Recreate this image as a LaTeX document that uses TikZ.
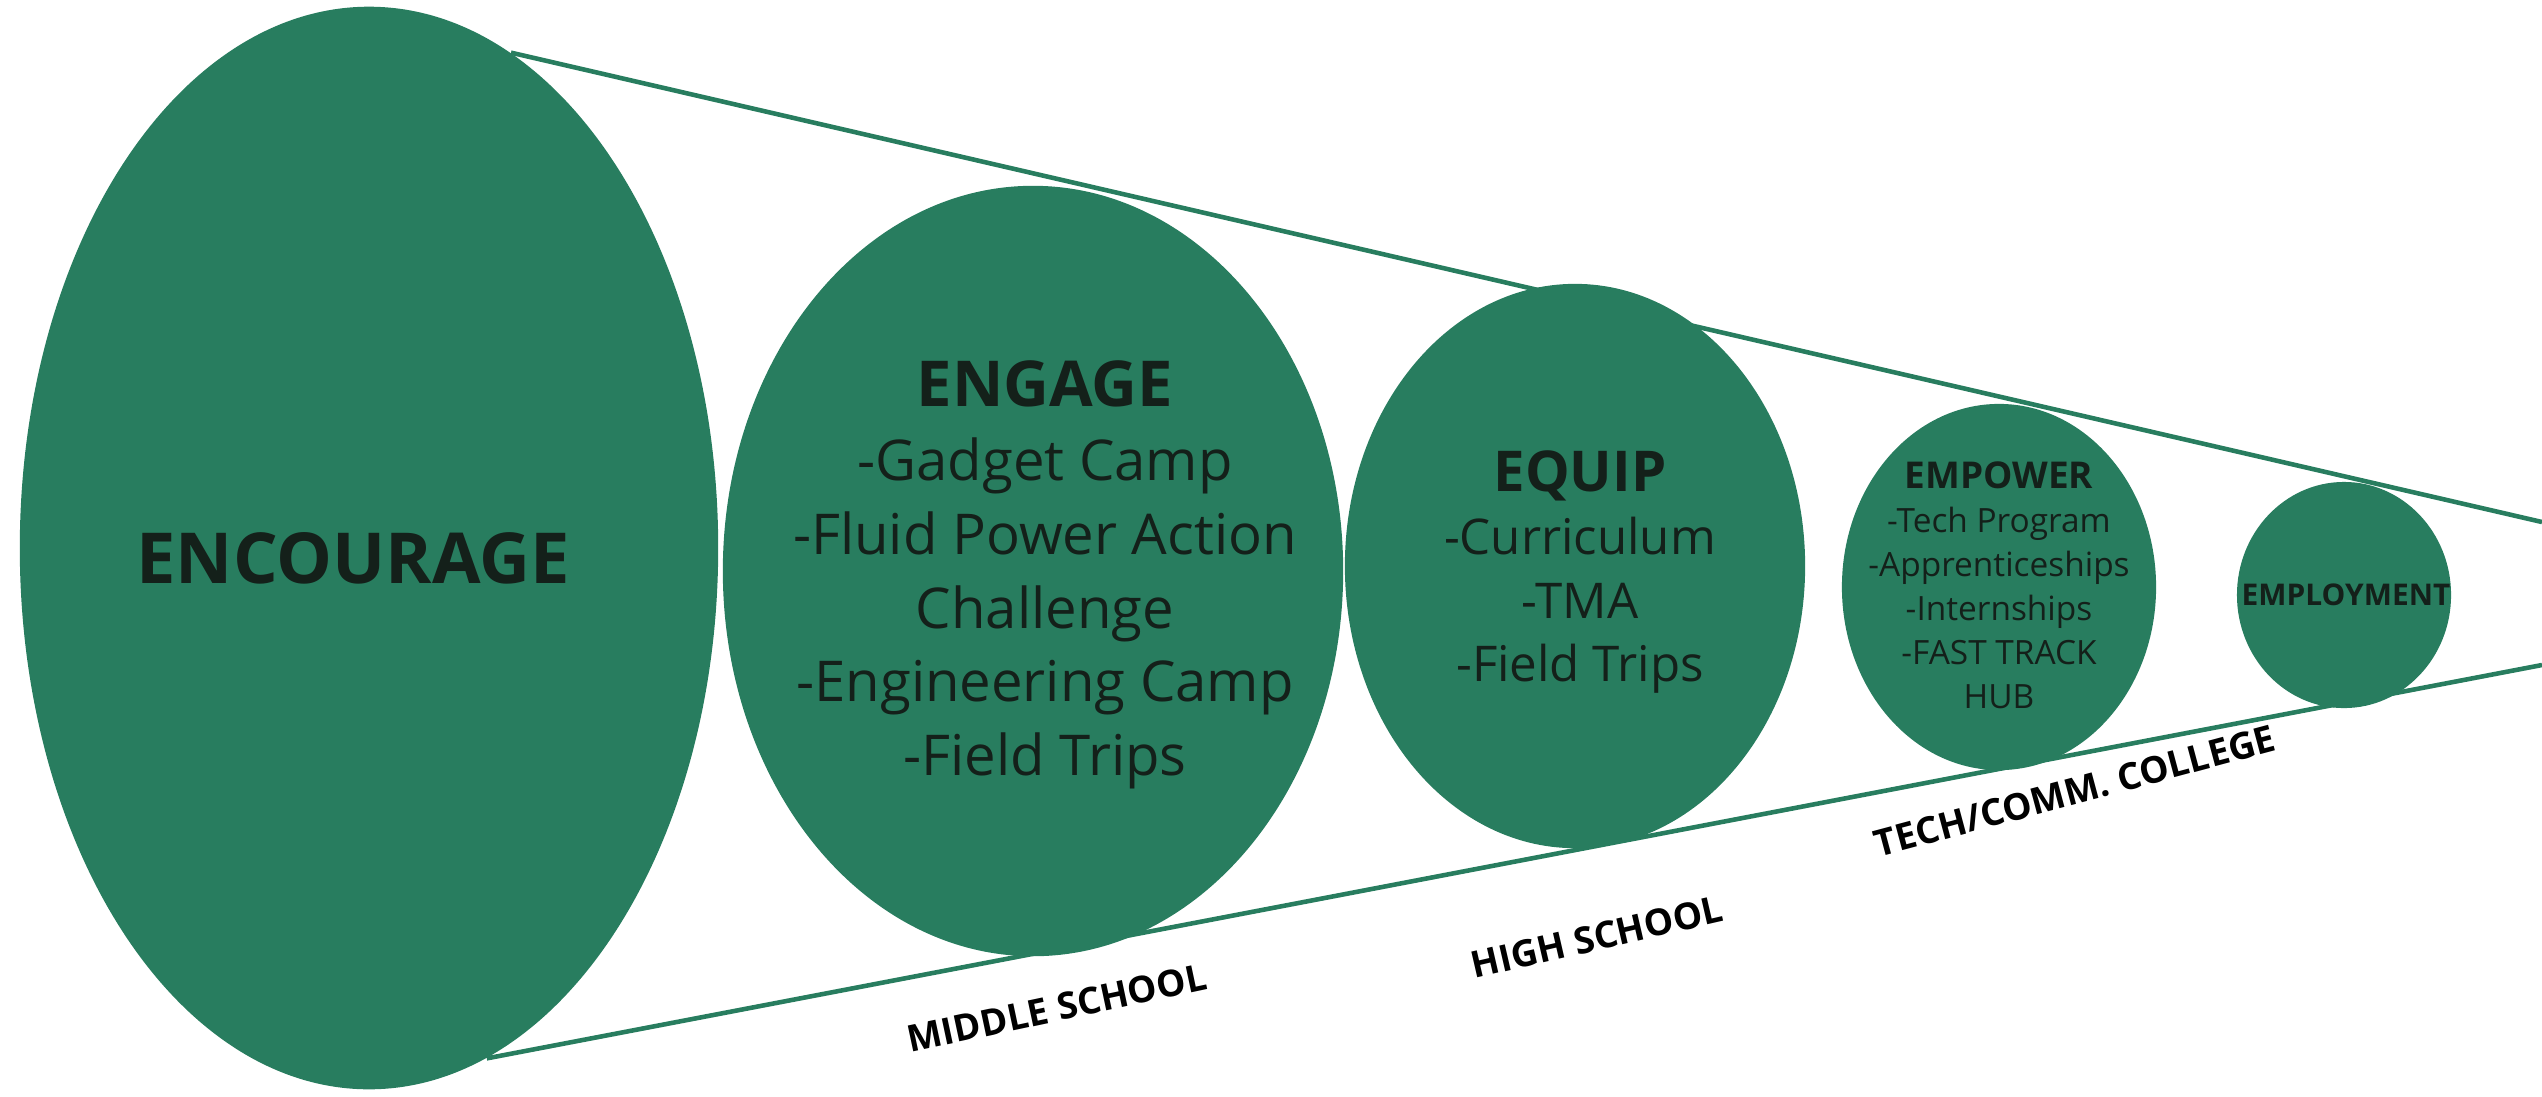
\documentclass[tikz,border=0pt]{standalone}
\usepackage{fontspec}
\setmainfont{Open Sans}
\usepackage{xcolor}
\usepackage{tikz}
\usetikzlibrary{shapes.geometric}
\definecolor{stagegreen}{RGB}{40,125,95}
\definecolor{stageink}{RGB}{20,32,26}

\begin{document}
\begin{tikzpicture}[x=0.01cm,y=-0.01cm,
    stage/.style={ellipse,fill=stagegreen,inner sep=0pt},
    funnel/.style={draw=stagegreen,line width=1.3pt},
    stagetext/.style={align=center,text=stageink,inner sep=0pt},
    level/.style={font=\bfseries\fontsize{10.5}{12}\selectfont,text=black,inner sep=0pt}]
        \useasboundingbox (0,0) rectangle (2542,1096);

        \node[stage,minimum width=6.98cm,minimum height=10.82cm] (encourage) at (369,548) {};
        \node[stage,minimum width=6.2cm,minimum height=7.7cm] (engage) at (1033,571) {};
        \node[stage,minimum width=4.6cm,minimum height=5.64cm] (equip) at (1575,566) {};
        \node[stage,minimum width=3.14cm,minimum height=3.66cm] (empower) at (1999,587) {};
        \node[stage,minimum width=2.14cm,minimum height=2.26cm] (employ) at (2344,595) {};

        \coordinate (topend) at (2542,522);
        \coordinate (botend) at (2542,665);
        \draw[funnel] (encourage.74) -- (topend);
        \draw[funnel] (encourage.-77) -- (botend);

        \node[stagetext,font=\bfseries\fontsize{20}{24}\selectfont] (encouragetxt) at (353,558) {ENCOURAGE};
        \node[stagetext,font=\fontsize{16}{21}\selectfont] (engagetxt) at (1045,575)
            {{\bfseries\fontsize{18}{21}\selectfont ENGAGE}\\-Gadget Camp\\-Fluid Power Action\\Challenge\\-Engineering Camp\\-Field Trips};
        \node[stagetext,font=\fontsize{14}{18}\selectfont] (equiptxt) at (1580,572)
            {{\bfseries\fontsize{16}{18}\selectfont EQUIP}\\-Curriculum\\-TMA\\-Field Trips};
        \node[stagetext,font=\fontsize{9.5}{12.5}\selectfont] (empowertxt) at (1999,585)
            {{\bfseries\fontsize{10.5}{12.5}\selectfont EMPOWER}\\-Tech Program\\-Apprenticeships\\-Internships\\-FAST TRACK\\HUB};
        \node[stagetext,font=\bfseries\fontsize{8.5}{10}\selectfont] (employtxt) at (2346,595) {EMPLOYMENT};

        \node[level,rotate=12] (middle) at (1057,1008) {MIDDLE SCHOOL};
        \node[level,rotate=13] (high) at (1597,937) {HIGH SCHOOL};
        \node[level,rotate=15] (college) at (2075,791) {TECH/COMM. COLLEGE};
\end{tikzpicture}
\end{document}
